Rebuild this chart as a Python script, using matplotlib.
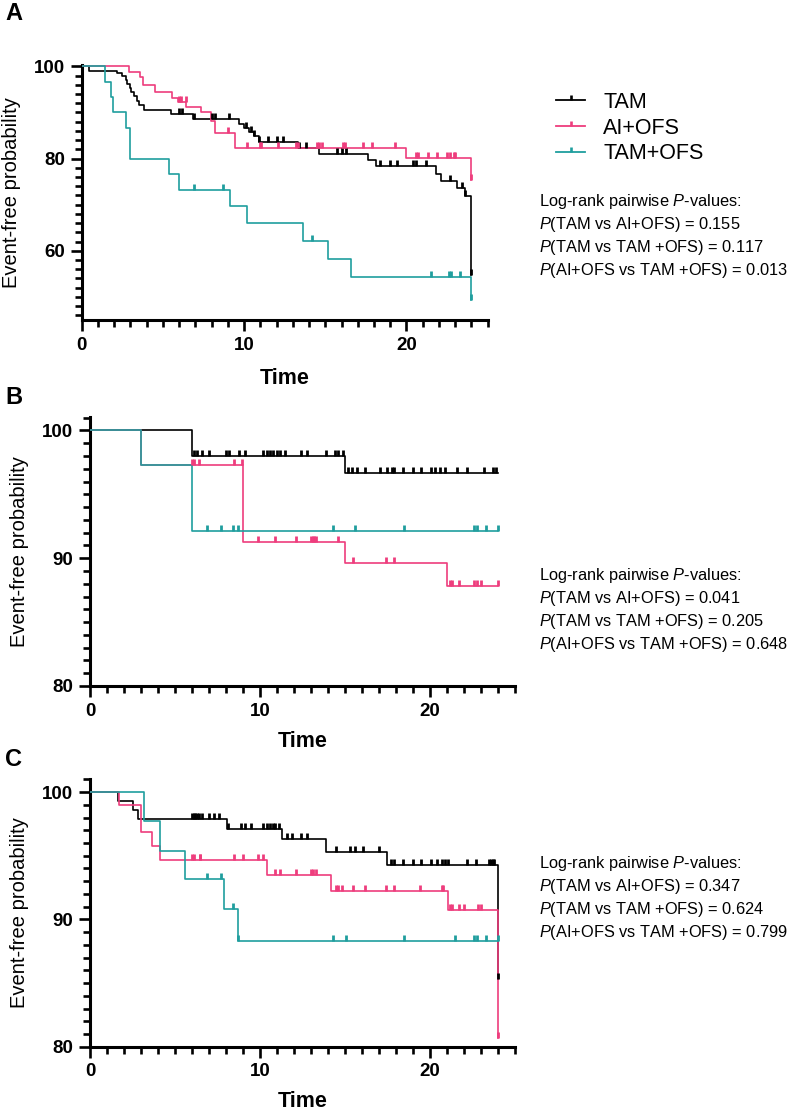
import numpy as np
import matplotlib
matplotlib.use("Agg")
import matplotlib.pyplot as plt
from matplotlib.path import Path
from matplotlib.lines import Line2D
from matplotlib.ticker import MultipleLocator

plt.rcParams['font.family'] = ['Liberation Sans', 'DejaVu Sans']
plt.rcParams['mathtext.fontset'] = 'custom'
plt.rcParams['mathtext.it'] = 'Liberation Sans:italic'
plt.rcParams['mathtext.rm'] = 'Liberation Sans'

groups = ["TAM", "AI+OFS", "TAM+OFS"]
colors = ["#000000", "#ee3d7d", "#1f9e9e"]

# ---- panel A: event times, survival after each event, censor times
a_tam_t = [0.45, 2.15, 2.5, 2.7, 2.8, 2.95, 3.05, 3.2, 3.4, 3.55, 3.85, 5.5, 6.85,
           9.7, 10.0, 10.3, 10.6, 10.9, 13.3, 14.6, 17.6, 18.1, 21.8, 22.1, 23.1, 23.6, 24.0]
a_tam_s = [99.1, 98.6, 97.9, 97.0, 96.1, 95.3, 94.4, 93.5, 92.6, 91.7, 90.5, 89.6, 88.6,
           87.6, 86.7, 85.8, 84.8, 83.6, 82.4, 81.1, 79.6, 78.4, 76.7, 75.2, 73.7, 71.8, 54.8]
a_tam_c = [6.0, 6.2, 6.9, 8.05, 8.2, 9.1, 10.1, 10.4, 10.6, 10.9, 11.5, 12.0, 12.4, 13.4,
           13.8, 15.7, 16.0, 16.3, 18.4, 19.0, 19.4, 20.4, 20.6, 21.2, 22.7, 23.4, 23.6, 24.0]

a_ai_t = [2.92, 3.6, 3.8, 4.5, 5.55, 5.95, 6.45, 7.35, 7.95, 8.2, 9.45, 20.0, 24.0]
a_ai_s = [98.8, 97.7, 95.9, 94.5, 93.2, 92.2, 91.2, 90.2, 88.2, 85.6, 82.4, 80.2, 75.4]
a_ai_c = [6.0, 6.1, 6.4, 9.0, 10.2, 11.0, 11.05, 12.1, 13.2, 13.3, 14.5, 14.6, 14.8, 16.1,
          16.2, 17.35, 17.9, 19.3, 20.6, 20.7, 21.3, 21.9, 22.5, 22.7, 22.9, 23.0, 24.0]

a_to_t = [1.45, 1.8, 1.95, 2.75, 3.0, 5.4, 6.0, 9.15, 10.15, 13.6, 15.15, 16.6, 24.0]
a_to_s = [96.7, 93.3, 90.0, 86.7, 80.0, 76.7, 73.3, 69.7, 66.0, 62.1, 58.2, 54.4, 49.3]
a_to_c = [6.9, 8.7, 14.2, 21.5, 22.6, 22.75, 23.3, 24.0]

# ---- panel B
b_tam_t = [6.0, 15.0]
b_tam_s = [98.0, 96.7]
b_tam_c = [6.1, 6.3, 6.6, 7.0, 8.0, 8.2, 8.8, 9.1, 10.2, 10.4, 10.6, 10.8, 11.0, 11.2, 11.5,
           12.4, 12.8, 13.9, 14.4, 14.6, 14.9, 15.2, 15.4, 15.7, 16.2, 17.1, 17.5, 17.8, 17.9,
           18.4, 19.0, 19.5, 20.1, 20.3, 20.6, 20.9, 21.6, 22.2, 23.2, 23.7, 23.9]

b_ai_t = [3.0, 9.0, 15.0, 21.0]
b_ai_s = [97.3, 91.3, 89.6, 87.8]
b_ai_c = [6.0, 6.1, 6.4, 8.5, 8.95, 9.9, 10.9, 12.1, 13.0, 13.1, 13.2, 13.3, 14.6, 15.5,
          17.4, 17.9, 21.2, 21.3, 21.7, 22.6, 22.8, 23.0, 24.0]

b_to_t = [3.0, 6.0]
b_to_s = [97.3, 92.1]
b_to_c = [6.9, 7.7, 8.4, 8.7, 14.3, 15.6, 18.5, 22.6, 22.8, 23.3, 24.0]

# ---- panel C
c_tam_t = [1.65, 2.55, 2.8, 8.05, 11.3, 13.9, 17.5, 24.0]
c_tam_s = [99.3, 98.6, 97.9, 97.1, 96.3, 95.3, 94.3, 85.3]
c_tam_c = [6.0, 6.1, 6.2, 6.3, 6.4, 6.6, 7.0, 7.3, 7.6, 8.15, 8.9, 9.1, 9.5, 10.2, 10.4,
           10.6, 10.8, 10.9, 11.1, 11.6, 11.9, 12.4, 12.8, 14.5, 15.3, 15.6, 16.1, 17.0,
           17.7, 17.9, 18.45, 19.0, 19.5, 20.1, 20.4, 20.7, 20.9, 21.1, 22.2, 22.7, 23.5,
           23.6, 23.7, 23.8, 24.0]

c_ai_t = [1.7, 3.0, 3.65, 4.1, 10.4, 14.2, 21.1, 24.0]
c_ai_s = [99.0, 96.9, 95.8, 94.7, 93.5, 92.2, 90.7, 80.7]
c_ai_c = [6.0, 6.1, 6.45, 6.5, 8.5, 9.0, 9.9, 10.2, 10.9, 11.2, 12.1, 13.0, 13.15, 13.3,
          14.5, 14.6, 14.85, 15.5, 16.2, 17.4, 17.9, 19.4, 20.7, 20.8, 21.2, 21.3, 21.7,
          22.0, 22.85, 23.0, 24.0]

c_to_t = [3.2, 4.1, 5.6, 7.9, 8.7]
c_to_s = [97.7, 95.4, 93.2, 90.8, 88.3]
c_to_c = [6.9, 7.7, 8.4, 8.7, 14.3, 15.1, 18.5, 21.5, 22.6, 22.8, 23.3, 24.0]

pvals_a = ["0.155", "0.117", "0.013"]
pvals_b = ["0.041", "0.205", "0.648"]
pvals_c = ["0.347", "0.624", "0.799"]

t_end = 24.0
tick_mark = Path([(0, 0), (0, 1)])


def km(ax, times, surv, cens, color):
    x = [0.0] + list(times) + [t_end]
    y = [100.0] + list(surv) + [surv[-1]]
    ax.step(x, y, where='post', color=color, lw=1.2, zorder=3)
    levels = np.array([100.0] + list(surv))
    idx = np.searchsorted(np.array(times), np.array(cens), side='right')
    ax.plot(cens, levels[idx], ls='none', marker=tick_mark, ms=8,
            mew=2.0, color=color, zorder=4)


def style(ax, ylim, ymajor, yminor, xpad):
    ax.set_xlim(0, 25.02)
    ax.set_ylim(*ylim)
    ax.spines['top'].set_visible(False)
    ax.spines['right'].set_visible(False)
    for s in ['left', 'bottom']:
        ax.spines[s].set_linewidth(2.2)
    ax.xaxis.set_major_locator(MultipleLocator(10))
    ax.xaxis.set_minor_locator(MultipleLocator(1))
    ax.yaxis.set_major_locator(MultipleLocator(ymajor))
    ax.yaxis.set_minor_locator(MultipleLocator(yminor))
    ax.tick_params(which='major', length=8, width=1.9, labelsize=13.5, pad=4)
    ax.tick_params(which='minor', length=5, width=1.9)
    for lab in ax.get_xticklabels() + ax.get_yticklabels():
        lab.set_fontweight('bold')
    ax.set_xlabel("Time", fontsize=15.5, fontweight='bold', labelpad=xpad)
    ax.set_ylabel("Event-free probability", fontsize=14.5, labelpad=9.5)


fig = plt.figure(figsize=(7.9, 11.15), dpi=100)
W, H = 790.0, 1115.0

ax_a = fig.add_axes([81.7 / W, 1 - 320 / H, 406.3 / W, 255 / H])
ax_b = fig.add_axes([90 / W, 1 - 686 / H, 425 / W, 269 / H])
ax_c = fig.add_axes([90 / W, 1 - 1046.7 / H, 425 / W, 268 / H])

panels = [
    (ax_a, [(a_tam_t, a_tam_s, a_tam_c), (a_ai_t, a_ai_s, a_ai_c), (a_to_t, a_to_s, a_to_c)],
     (45, 100.3), 20, 2, 10),
    (ax_b, [(b_tam_t, b_tam_s, b_tam_c), (b_ai_t, b_ai_s, b_ai_c), (b_to_t, b_to_s, b_to_c)],
     (80, 101.05), 10, 1, 8),
    (ax_c, [(c_tam_t, c_tam_s, c_tam_c), (c_ai_t, c_ai_s, c_ai_c), (c_to_t, c_to_s, c_to_c)],
     (80, 101.05), 10, 1, 8),
]
for ax, series, ylim, ymaj, ymin, xpad in panels:
    for (t, s, c), col in zip(series, colors):
        km(ax, t, s, c, col)
    style(ax, ylim, ymaj, ymin, xpad)

# panel letters
for letter, ypix in [("A", 14), ("B", 398), ("C", 760)]:
    fig.text(5 / W, 1 - ypix / H, letter, fontsize=17, fontweight='bold', va='center')

# legend
handles = [Line2D([0], [0], color=c, lw=1.3, marker=tick_mark, ms=7.5, mew=1.9)
           for c in colors]
fig.legend(handles, groups, loc='upper left', bbox_to_anchor=(556 / W, 1 - 92 / H),
           frameon=False, fontsize=15.5, handlelength=1.35, handletextpad=0.85,
           labelspacing=0.22, borderaxespad=0, borderpad=0)

# log-rank text blocks
for pv, y0 in [(pvals_a, 206), (pvals_b, 580), (pvals_c, 868)]:
    lines = [r"Log-rank pairwise $P$-values:",
             r"$P$(TAM vs AI+OFS) = " + pv[0],
             r"$P$(TAM vs TAM +OFS) = " + pv[1],
             r"$P$(AI+OFS vs TAM +OFS) = " + pv[2]]
    for i, txt in enumerate(lines):
        fig.text(539 / W, 1 - (y0 + 23 * i) / H, txt, fontsize=11.8, va='baseline')

fig.savefig("out.png", dpi=100)
